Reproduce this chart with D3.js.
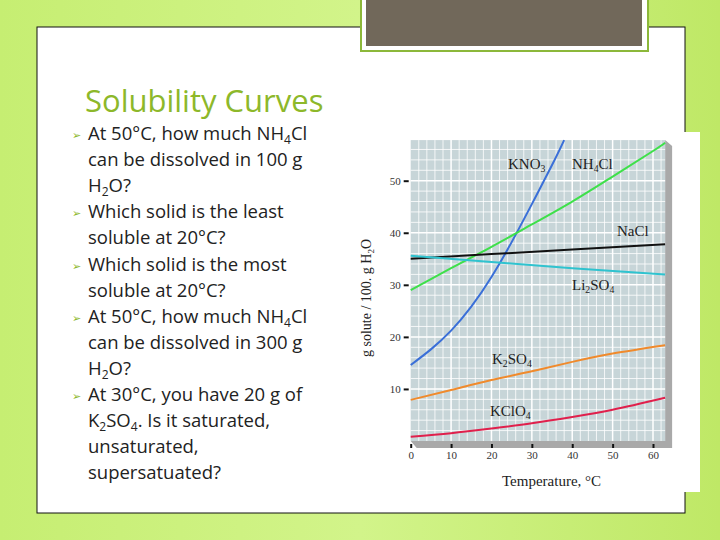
<!DOCTYPE html>
<html><head><meta charset="utf-8">
<script src="https://cdn.jsdelivr.net/npm/d3@7"></script>
<style>body{margin:0;}svg{display:block;}</style></head>
<body><svg id="c" width="720" height="540"></svg>
<script>
const KNO3 = [[0,14.6],[5,17.6],[10,21.2],[15,25.8],[20,31.5],[25,38.2],[30,45.5],[35,53],[38,57.8]];
const NH4Cl = [[0,29],[10,33.2],[20,37.3],[30,41.6],[40,46],[50,50.8],[60,55.7],[63,57.3]];
const NaCl = [[0,35],[20,35.9],[40,36.8],[63,37.8]];
const Li2SO4 = [[0,35.6],[20,34.4],[40,33.2],[63,32]];
const K2SO4 = [[0,7.9],[10,9.8],[20,11.7],[30,13.4],[40,15.2],[50,16.8],[63,18.4]];
const KClO4 = [[0,0.8],[10,1.5],[20,2.4],[30,3.4],[40,4.6],[50,6],[63,8.3]];
const yTicks = [10,20,30,40,50];
const xTicks = [0,10,20,30,40,50,60];
const series = [
 {name:"KNO3", data:KNO3, color:"#3a6fd8"},
 {name:"NH4Cl", data:NH4Cl, color:"#3ee04a"},
 {name:"NaCl", data:NaCl, color:"#111"},
 {name:"Li2SO4", data:Li2SO4, color:"#2fc3cf"},
 {name:"K2SO4", data:K2SO4, color:"#f08a2c"},
 {name:"KClO4", data:KClO4, color:"#e0204c"}
];
const svg = d3.select("#c");
const defs = svg.append("defs");
const g1 = defs.append("linearGradient").attr("id","bg").attr("x1",0).attr("x2",1);
g1.append("stop").attr("offset",0).attr("stop-color","#c6ee72");
g1.append("stop").attr("offset",0.5).attr("stop-color","#d2f48a");
g1.append("stop").attr("offset",1).attr("stop-color","#bfe866");
svg.append("rect").attr("width",720).attr("height",540).attr("fill","url(#bg)");
svg.append("rect").attr("x",37).attr("y",27).attr("width",648).attr("height",486).attr("fill","#fff").attr("stroke","#111").attr("stroke-width",1);
svg.append("rect").attr("x",361).attr("y",-2).attr("width",287).attr("height",53).attr("fill","#fff").attr("stroke","#8cb83a").attr("stroke-width",2);
svg.append("rect").attr("x",366).attr("y",-2).attr("width",276).attr("height",48).attr("fill","#71685a");

svg.append("text").attr("x",85).attr("y",112).attr("font-family","'Open Sans'").attr("font-size",31).attr("fill","#8db82a").text("Solubility Curves");

const lines = [
 {b:true, t:[["At 50°C, how much NH"],["4","s"],["Cl"]]},
 {t:[["can be dissolved in 100 g"]]},
 {t:[["H"],["2","s"],["O?"]]},
 {b:true, t:[["Which solid is the least"]]},
 {t:[["soluble at 20°C?"]]},
 {b:true, t:[["Which solid is the most"]]},
 {t:[["soluble at 20°C?"]]},
 {b:true, t:[["At 50°C, how much NH"],["4","s"],["Cl"]]},
 {t:[["can be dissolved in 300 g"]]},
 {t:[["H"],["2","s"],["O?"]]},
 {b:true, t:[["At 30°C, you have 20 g of"]]},
 {t:[["K"],["2","s"],["SO"],["4","s"],[". Is it saturated,"]]},
 {t:[["unsaturated,"]]},
 {t:[["supersatuated?"]]}
];
lines.forEach((l,i)=>{
  const y = 140 + i*26.1;
  if(l.b) svg.append("text").attr("x",72).attr("y",y-1).attr("font-size",11).attr("fill","#8db82a").attr("font-family","DejaVu Sans").text("➢");
  const t = svg.append("text").attr("x",88).attr("y",y).attr("font-family","'Open Sans'").attr("font-size",18.5).attr("fill","#222");
  let prevSub=false;
  l.t.forEach(p=>{
    const s=t.append("tspan").text(p[0]);
    if(p[1]==="s"){ s.attr("font-size",12).attr("dy",4); prevSub=true; }
    else if(prevSub){ s.attr("dy",-4); prevSub=false; }
  });
});

svg.append("rect").attr("x",401).attr("y",132).attr("width",299).attr("height",360).attr("fill","#fff");
const x = d3.scaleLinear().domain([0,60]).range([410.7,653]);
const y = d3.scaleLinear().domain([0,50]).range([441,180.7]);
const xmax=63, ymax=57.8;
svg.append("polygon").attr("points",`${x(xmax)},${y(ymax)} ${x(xmax)+7},${y(ymax)+6} ${x(xmax)+7},${y(0)+7} ${x(0)+6},${y(0)+7} ${x(0)},${y(0)} ${x(xmax)},${y(0)}`).attr("fill","#a9a9a9");
svg.append("rect").attr("x",x(0)).attr("y",y(ymax)).attr("width",x(xmax)-x(0)).attr("height",y(0)-y(ymax)).attr("fill","#c7d5d8");
const gg = svg.append("g").attr("stroke","#fff");
d3.range(2,xmax,2).forEach(v=>gg.append("line").attr("x1",x(v)).attr("x2",x(v)).attr("y1",y(0)).attr("y2",y(ymax)).attr("stroke-width",v%10===0?1.5:0.8));
d3.range(2,ymax,2).forEach(v=>gg.append("line").attr("y1",y(v)).attr("y2",y(v)).attr("x1",x(0)).attr("x2",x(xmax)).attr("stroke-width",v%10===0?1.5:0.8));
const line = d3.line().x(d=>x(d[0])).y(d=>y(d[1])).curve(d3.curveNatural);
series.forEach(s=>svg.append("path").attr("d",line(s.data)).attr("fill","none").attr("stroke",s.color).attr("stroke-width",2));
const ax = svg.append("g").attr("transform",`translate(0,${y(0)+3})`).call(d3.axisBottom(x).tickValues(xTicks).tickSize(4));
const ay = svg.append("g").attr("transform",`translate(${x(0)-2},0)`).call(d3.axisLeft(y).tickValues(yTicks).tickSize(5));
[ax,ay].forEach(a=>{a.select(".domain").remove();a.selectAll("line").attr("stroke","#111").attr("stroke-width",2);a.selectAll("text").attr("font-family","'Liberation Serif'").attr("font-size",11).attr("fill","#333");});
const serif="'Liberation Serif'";
function lab(xx,yy,parts,fs=15){
  const t=svg.append("text").attr("x",xx).attr("y",yy).attr("font-family",serif).attr("font-size",fs).attr("fill","#222");
  let prev=false;
  parts.forEach(p=>{const s=t.append("tspan").text(p[0]); if(p[1]){ s.attr("font-size",fs*0.65).attr("dy",3); prev=true;} else if(prev){ s.attr("dy",-3); prev=false;}});
}
lab(508,169,[["KNO"],["3",1]]);
lab(572,169,[["NH"],["4",1],["Cl"]]);
lab(617,236,[["NaCl"]]);
lab(572,290,[["Li"],["2",1],["SO"],["4",1]]);
lab(492,364,[["K"],["2",1],["SO"],["4",1]]);
lab(490,416,[["KClO"],["4",1]]);
lab(502,486,[["Temperature, °C"]],15);
svg.append("text").attr("transform","translate(371,298) rotate(-90)").attr("text-anchor","middle").attr("font-family",serif).attr("font-size",14).attr("fill","#222")
 .call(t=>{t.append("tspan").text("g solute / 100. g  H");t.append("tspan").text("2").attr("font-size",9).attr("dy",3);t.append("tspan").text("O").attr("dy",-3);});
</script></body></html>
